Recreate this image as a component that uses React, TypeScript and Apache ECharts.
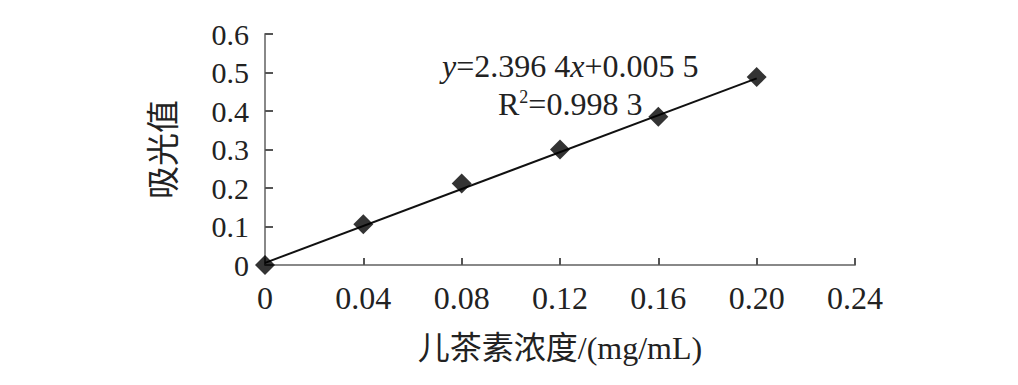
import React, { useEffect, useRef } from "react";
import * as echarts from "echarts";

const xValues = [0, 0.04, 0.08, 0.12, 0.16, 0.2];
const yValues = [0, 0.106, 0.212, 0.3, 0.385, 0.488];
const trendX = [0, 0.2];
const trendY = [0.0055, 0.4848];
const xTickLabels = ["0", "0.04", "0.08", "0.12", "0.16", "0.20", "0.24"];
const yTickLabels = ["0", "0.1", "0.2", "0.3", "0.4", "0.5", "0.6"];
const xAxisName = "儿茶素浓度/(mg/mL)";
const yAxisName = "吸光值";

export default function App() {
  const ref = useRef<HTMLDivElement>(null);
  useEffect(() => {
    if (!ref.current) return;
    const chart = echarts.init(ref.current, null, { renderer: "svg" });
    const serif = "Liberation Serif";
    const cjk = "Liberation Serif, Noto Sans CJK SC";
    chart.setOption({
      animation: false,
      backgroundColor: "#ffffff",
      grid: { left: 265, right: 163, top: 34, bottom: 120, containLabel: false },
      xAxis: {
        type: "value",
        min: 0,
        max: 0.24,
        interval: 0.04,
        name: xAxisName,
        nameLocation: "middle",
        nameGap: 67,
        nameTextStyle: { fontFamily: cjk, fontSize: 32, color: "#222" },
        axisLine: { lineStyle: { color: "#888", width: 2 } },
        axisTick: { inside: true, length: 7, lineStyle: { color: "#555", width: 2 } },
        axisLabel: {
          margin: 17,
          fontFamily: serif,
          fontSize: 32,
          color: "#222",
          formatter: (v: number) => xTickLabels[Math.round(v / 0.04)] ?? "",
        },
        splitLine: { show: false },
      },
      yAxis: {
        type: "value",
        min: 0,
        max: 0.6,
        interval: 0.1,
        name: yAxisName,
        nameLocation: "middle",
        nameGap: 85,
        nameRotate: 90,
        nameTextStyle: { fontFamily: cjk, fontSize: 33, color: "#222" },
        axisLine: { show: true, lineStyle: { color: "#888", width: 2 } },
        axisTick: { show: true, inside: true, length: 8, lineStyle: { color: "#555", width: 2 } },
        axisLabel: {
          margin: 16,
          fontFamily: serif,
          fontSize: 30,
          color: "#222",
          formatter: (v: number) => yTickLabels[Math.round(v / 0.1)] ?? "",
        },
        splitLine: { show: false },
      },
      series: [
        {
          type: "line",
          data: trendX.map((x, i) => [x, trendY[i]]),
          showSymbol: false,
          symbol: "none",
          lineStyle: { color: "#111", width: 2 },
          silent: true,
          z: 2,
        },
        {
          type: "scatter",
          data: xValues.map((x, i) => [x, yValues[i]]),
          symbol: "diamond",
          symbolSize: [20, 20],
          itemStyle: { color: "#000" },
          z: 3,
        },
      ],
      graphic: [
        {
          type: "text",
          left: 442,
          top: 50,
          style: {
            text: "{i|y}{n|=2.396 4}{i|x}{n|+0.005 5}",
            rich: {
              i: { fontFamily: serif, fontSize: 32, fontStyle: "italic", fill: "#222" },
              n: { fontFamily: serif, fontSize: 32, fill: "#222" },
            },
            fontFamily: serif,
            fontSize: 32,
            fill: "#222",
          },
        },
        {
          type: "text",
          left: 498,
          top: 88,
          style: {
            text: "{n|R}{s|2}{n|=0.998 3}",
            rich: {
              n: { fontFamily: serif, fontSize: 32, fill: "#222" },
              s: { fontFamily: serif, fontSize: 18, fill: "#222", verticalAlign: "top", padding: [0, 0, 12, 0] },
            },
            fontFamily: serif,
            fontSize: 32,
            fill: "#222",
          },
        },
      ],
    });
    return () => chart.dispose();
  }, []);
  return <div ref={ref} style={{ width: 1018, height: 385, position: "absolute", left: 0, top: 0 }} />;
}
